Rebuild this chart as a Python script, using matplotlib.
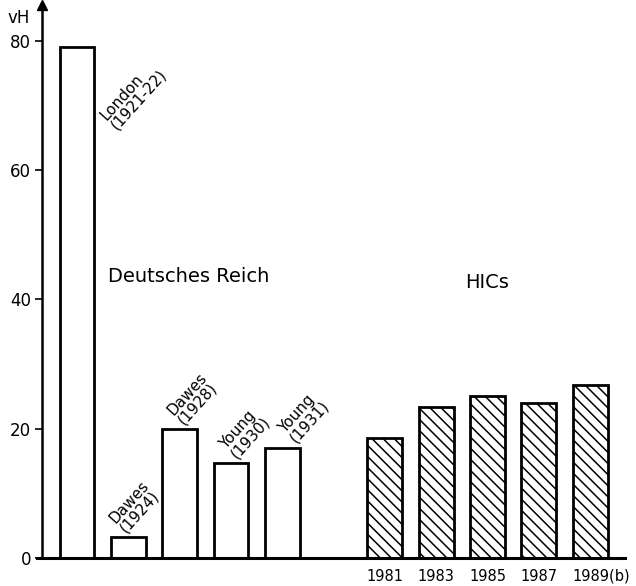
import matplotlib
matplotlib.use('Agg')
import matplotlib.pyplot as plt

# Deutsches Reich: Reparationsplaene
de_labels = ['London\n(1921-22)', 'Dawes\n(1924)', 'Dawes\n(1928)', 'Young\n(1930)', 'Young\n(1931)']
de_values = [79.1, 3.25, 20.0, 14.7, 17.0]

# HICs
hic_years = ['1981', '1983', '1985', '1987', '1989(b)']
hic_values = [18.6, 23.4, 25.1, 24.0, 26.8]

yticks = [0, 20, 40, 60, 80]

plt.rcParams['hatch.linewidth'] = 1.1
fig = plt.figure(figsize=(6.36, 5.86), dpi=100)
ax = fig.add_axes([37/636, 28/586, 588/636, 550/586])

w = 0.68
de_x = list(range(len(de_values)))
hic_x = [i + 6 for i in range(len(hic_values))]

ax.bar(de_x, de_values, width=w, color='white', edgecolor='black', linewidth=2.0)
ax.bar(hic_x, hic_values, width=w, color='white', edgecolor='black', linewidth=2.0, hatch='\\\\\\')

# schraege Beschriftungen
lab_dx = [0.82, 0.0, 0.12, 0.15, 0.3]
lab_y = [65.8, 3.5, 20.2, 14.9, 17.4]
for i in range(len(de_labels)):
    ax.text(de_x[i] + lab_dx[i], lab_y[i], de_labels[i], rotation=48, rotation_mode='anchor',
            ha='left', va='bottom', fontsize=11, linespacing=0.9)

for i in range(len(hic_years)):
    if i == len(hic_years) - 1:
        ax.text(hic_x[i] - w/2, -2.8, hic_years[i], ha='left', va='center', fontsize=10.5)
    else:
        ax.text(hic_x[i], -2.8, hic_years[i], ha='center', va='center', fontsize=10.5)

ax.text(0.6, 43.5, 'Deutsches Reich', ha='left', va='center', fontsize=14)
ax.text(8.0, 42.6, 'HICs', ha='center', va='center', fontsize=14)

ax.set_xlim(-0.78, 10.68)
ax.set_ylim(0, 85.1)
ax.set_yticks(yticks)
ax.set_xticks([])
ax.tick_params(axis='y', direction='out', length=5, width=1.2, labelsize=12, pad=3)
for s in ['top', 'right']:
    ax.spines[s].set_visible(False)
ax.spines['left'].set_position(('data', -0.68))
ax.spines['left'].set_linewidth(1.8)
ax.spines['bottom'].set_linewidth(2.2)
ax.plot(-0.68, 85.5, marker='^', color='black', markersize=7, clip_on=False)
ax.text(-0.92, 83.6, 'vH', ha='right', va='center', fontsize=12)

fig.savefig('out.png', dpi=100)
